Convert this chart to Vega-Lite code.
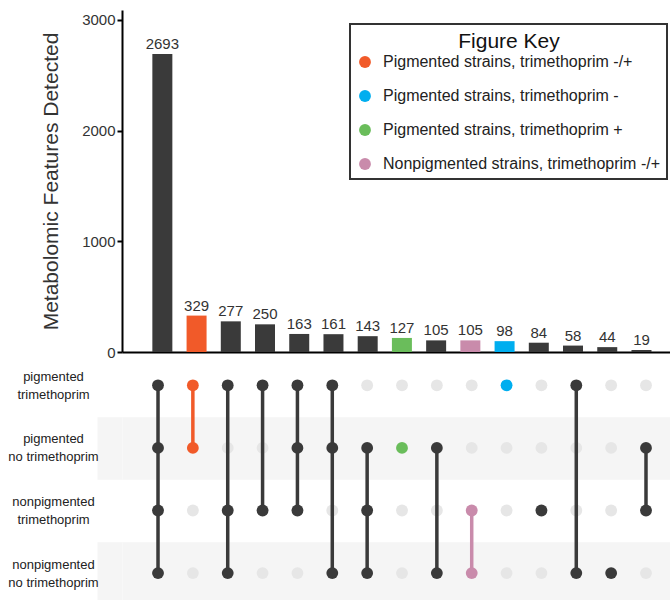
{
  "$schema": "https://vega.github.io/schema/vega-lite/v6.json",
  "padding": {"left": 7, "top": 10, "right": 0, "bottom": 0},
  "bounds": "flush",
  "spacing": 0,
  "config": {
    "font": "Liberation Sans",
    "view": {"stroke": null},
    "axis": {"grid": false},
    "legend": {"strokeColor": "#333", "strokeWidth": 2}
  },
  "datasets": {
    "sets": [
      {"c": 1, "count": 2693, "g": "Other"},
      {"c": 2, "count": 329, "g": "Pigmented strains, trimethoprim -/+"},
      {"c": 3, "count": 277, "g": "Other"},
      {"c": 4, "count": 250, "g": "Other"},
      {"c": 5, "count": 163, "g": "Other"},
      {"c": 6, "count": 161, "g": "Other"},
      {"c": 7, "count": 143, "g": "Other"},
      {"c": 8, "count": 127, "g": "Pigmented strains, trimethoprim +"},
      {"c": 9, "count": 105, "g": "Other"},
      {"c": 10, "count": 105, "g": "Nonpigmented strains, trimethoprim -/+"},
      {"c": 11, "count": 98, "g": "Pigmented strains, trimethoprim -"},
      {"c": 12, "count": 84, "g": "Other"},
      {"c": 13, "count": 58, "g": "Other"},
      {"c": 14, "count": 44, "g": "Other"},
      {"c": 15, "count": 19, "g": "Other"}
    ],
    "matrix": [
      {"c": 1, "r": 1, "m": 1, "g": "Other"}, {"c": 1, "r": 2, "m": 1, "g": "Other"}, {"c": 1, "r": 3, "m": 1, "g": "Other"}, {"c": 1, "r": 4, "m": 1, "g": "Other"},
      {"c": 2, "r": 1, "m": 1, "g": "Pigmented strains, trimethoprim -/+"}, {"c": 2, "r": 2, "m": 1, "g": "Pigmented strains, trimethoprim -/+"}, {"c": 2, "r": 3, "m": 0, "g": "Pigmented strains, trimethoprim -/+"}, {"c": 2, "r": 4, "m": 0, "g": "Pigmented strains, trimethoprim -/+"},
      {"c": 3, "r": 1, "m": 1, "g": "Other"}, {"c": 3, "r": 2, "m": 0, "g": "Other"}, {"c": 3, "r": 3, "m": 1, "g": "Other"}, {"c": 3, "r": 4, "m": 1, "g": "Other"},
      {"c": 4, "r": 1, "m": 1, "g": "Other"}, {"c": 4, "r": 2, "m": 0, "g": "Other"}, {"c": 4, "r": 3, "m": 1, "g": "Other"}, {"c": 4, "r": 4, "m": 0, "g": "Other"},
      {"c": 5, "r": 1, "m": 1, "g": "Other"}, {"c": 5, "r": 2, "m": 1, "g": "Other"}, {"c": 5, "r": 3, "m": 1, "g": "Other"}, {"c": 5, "r": 4, "m": 0, "g": "Other"},
      {"c": 6, "r": 1, "m": 1, "g": "Other"}, {"c": 6, "r": 2, "m": 1, "g": "Other"}, {"c": 6, "r": 3, "m": 0, "g": "Other"}, {"c": 6, "r": 4, "m": 1, "g": "Other"},
      {"c": 7, "r": 1, "m": 0, "g": "Other"}, {"c": 7, "r": 2, "m": 1, "g": "Other"}, {"c": 7, "r": 3, "m": 1, "g": "Other"}, {"c": 7, "r": 4, "m": 1, "g": "Other"},
      {"c": 8, "r": 1, "m": 0, "g": "Pigmented strains, trimethoprim +"}, {"c": 8, "r": 2, "m": 1, "g": "Pigmented strains, trimethoprim +"}, {"c": 8, "r": 3, "m": 0, "g": "Pigmented strains, trimethoprim +"}, {"c": 8, "r": 4, "m": 0, "g": "Pigmented strains, trimethoprim +"},
      {"c": 9, "r": 1, "m": 0, "g": "Other"}, {"c": 9, "r": 2, "m": 1, "g": "Other"}, {"c": 9, "r": 3, "m": 0, "g": "Other"}, {"c": 9, "r": 4, "m": 1, "g": "Other"},
      {"c": 10, "r": 1, "m": 0, "g": "Nonpigmented strains, trimethoprim -/+"}, {"c": 10, "r": 2, "m": 0, "g": "Nonpigmented strains, trimethoprim -/+"}, {"c": 10, "r": 3, "m": 1, "g": "Nonpigmented strains, trimethoprim -/+"}, {"c": 10, "r": 4, "m": 1, "g": "Nonpigmented strains, trimethoprim -/+"},
      {"c": 11, "r": 1, "m": 1, "g": "Pigmented strains, trimethoprim -"}, {"c": 11, "r": 2, "m": 0, "g": "Pigmented strains, trimethoprim -"}, {"c": 11, "r": 3, "m": 0, "g": "Pigmented strains, trimethoprim -"}, {"c": 11, "r": 4, "m": 0, "g": "Pigmented strains, trimethoprim -"},
      {"c": 12, "r": 1, "m": 0, "g": "Other"}, {"c": 12, "r": 2, "m": 0, "g": "Other"}, {"c": 12, "r": 3, "m": 1, "g": "Other"}, {"c": 12, "r": 4, "m": 0, "g": "Other"},
      {"c": 13, "r": 1, "m": 1, "g": "Other"}, {"c": 13, "r": 2, "m": 0, "g": "Other"}, {"c": 13, "r": 3, "m": 0, "g": "Other"}, {"c": 13, "r": 4, "m": 1, "g": "Other"},
      {"c": 14, "r": 1, "m": 0, "g": "Other"}, {"c": 14, "r": 2, "m": 0, "g": "Other"}, {"c": 14, "r": 3, "m": 0, "g": "Other"}, {"c": 14, "r": 4, "m": 1, "g": "Other"},
      {"c": 15, "r": 1, "m": 0, "g": "Other"}, {"c": 15, "r": 2, "m": 1, "g": "Other"}, {"c": 15, "r": 3, "m": 1, "g": "Other"}, {"c": 15, "r": 4, "m": 0, "g": "Other"}
    ]
  },
  "resolve": {"legend": {"color": "independent"}},
  "vconcat": [
    {
      "width": 550,
      "height": 342,
      "data": {"name": "sets"},
      "encoding": {
        "x": {
          "field": "c", "type": "quantitative",
          "scale": {"domain": [-0.033, 15.746], "nice": false, "zero": false},
          "axis": {"domain": true, "domainColor": "#000", "domainWidth": 2, "labels": false, "ticks": false, "grid": false, "title": null}
        },
        "y": {
          "field": "count", "type": "quantitative",
          "scale": {"domain": [0, 3090], "nice": false},
          "axis": {
            "values": [0, 1000, 2000, 3000],
            "format": "d",
            "title": "Metabolomic Features Detected",
            "titleFontSize": 21, "titleFontWeight": "normal", "titleColor": "#333", "titlePadding": 20,
            "labelFontSize": 15, "labelColor": "#333", "labelPadding": 2,
            "tickSize": 5, "tickWidth": 2, "tickColor": "#000",
            "domainColor": "#000", "domainWidth": 2, "grid": false
          }
        }
      },
      "layer": [
        {
          "mark": {"type": "bar", "width": 20},
          "encoding": {
            "color": {
              "field": "g", "type": "nominal",
              "scale": {
                "domain": ["Pigmented strains, trimethoprim -/+", "Pigmented strains, trimethoprim -", "Pigmented strains, trimethoprim +", "Nonpigmented strains, trimethoprim -/+", "Other"],
                "range": ["#F15A29", "#00AEEF", "#6ABD5B", "#C98BAB", "#3a3a3a"]
              },
              "legend": {
                "values": ["Pigmented strains, trimethoprim -/+", "Pigmented strains, trimethoprim -", "Pigmented strains, trimethoprim +", "Nonpigmented strains, trimethoprim -/+"],
                "title": "Figure Key",
                "orient": "none", "legendX": 228, "legendY": 14,
                "titleFontSize": 21, "titleFontWeight": "normal", "titleColor": "#111",
                "titleAnchor": "middle", "titlePadding": 2,
                "labelFontSize": 16, "labelColor": "#222", "labelOffset": 10, "labelLimit": 0,
                "symbolType": "circle", "symbolSize": 140, "symbolStrokeWidth": 0, "symbolOpacity": 1,
                "rowPadding": 18,
                "padding": 7
              }
            }
          }
        },
        {
          "mark": {"type": "text", "baseline": "alphabetic", "dy": -5, "fontSize": 15, "color": "#333"},
          "encoding": {"text": {"field": "count", "type": "quantitative", "format": "d"}}
        }
      ]
    },
    {
      "width": 550,
      "height": 248,
      "data": {"name": "matrix"},
      "encoding": {
        "x": {
          "field": "c", "type": "quantitative",
          "scale": {"domain": [-0.033, 15.746], "nice": false, "zero": false},
          "axis": null
        },
        "y": {
          "field": "r", "type": "quantitative",
          "scale": {"domain": [0.468, 4.43], "nice": false, "zero": false, "reverse": true},
          "axis": {
            "values": [1, 2, 3, 4],
            "title": null,
            "domain": false,
            "zindex": 0,
            "grid": true, "gridWidth": 62.6,
            "gridColor": {"condition": {"test": "datum.value === 2 || datum.value === 4", "value": "#f5f5f5"}, "value": "rgba(255,255,255,0)"},
            "ticks": true, "tickSize": 25, "tickWidth": 62.6,
            "tickColor": {"condition": {"test": "datum.value === 2 || datum.value === 4", "value": "#f5f5f5"}, "value": "rgba(255,255,255,0)"},
            "labelExpr": "datum.value === 1 ? ['pigmented', 'trimethoprim'] : datum.value === 2 ? ['pigmented', 'no trimethoprim'] : datum.value === 3 ? ['nonpigmented', 'trimethoprim'] : ['nonpigmented', 'no trimethoprim']",
            "labelAlign": "center", "labelBaseline": "middle", "labelPadding": 44, "labelOffset": -9,
            "labelLineHeight": 18, "labelFontSize": 13, "labelColor": "#222",
            "labelOverlap": false, "labelBound": false, "labelFlush": false
          }
        }
      },
      "layer": [
        {
          "transform": [{"filter": "datum.m === 0"}],
          "mark": {"type": "circle", "size": 140, "opacity": 1, "color": "#e6e6e6"}
        },
        {
          "transform": [{"filter": "datum.m === 1"}],
          "mark": {"type": "line", "strokeWidth": 3.5},
          "encoding": {
            "detail": {"field": "c", "type": "nominal"},
            "order": {"field": "r", "type": "quantitative"},
            "color": {"field": "g", "type": "nominal", "legend": null}
          }
        },
        {
          "transform": [{"filter": "datum.m === 1"}],
          "mark": {"type": "circle", "size": 140, "opacity": 1},
          "encoding": {
            "color": {"field": "g", "type": "nominal", "legend": null}
          }
        }
      ]
    }
  ]
}
